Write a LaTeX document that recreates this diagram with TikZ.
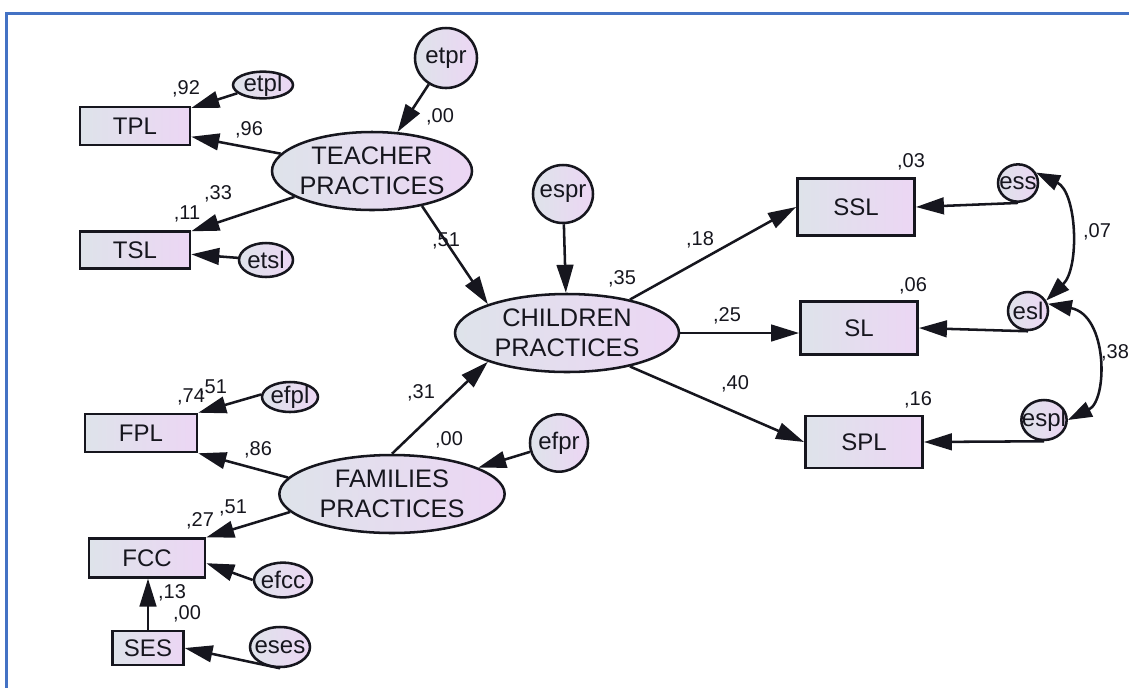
\documentclass[tikz,border=0pt]{standalone}
\usepackage{fontspec}
\setmainfont{Liberation Sans}
\usetikzlibrary{shapes.geometric,arrows.meta}
\definecolor{shL}{HTML}{DEE3EA}
\definecolor{shR}{HTML}{ECD6F4}
\definecolor{ink}{HTML}{16161E}
\definecolor{frameblue}{HTML}{4472C4}
\begin{document}
\begin{tikzpicture}[x=0.75pt,y=-0.75pt,
  base/.style={draw=ink, line width=1.9pt, left color=shL, right color=shR, text=ink, inner sep=0pt},
  obs/.style={base, rectangle, font=\fontsize{18}{20}\selectfont},
  lat/.style={base, ellipse, inner sep=-3pt, align=center, font=\fontsize{19}{22.5}\selectfont},
  err/.style={base, ellipse, label={[text=ink,inner sep=0pt,font=\fontsize{18}{20}\selectfont]center:#1}},
  coef/.style={text=ink, inner sep=0pt, font=\fontsize{15}{17}\selectfont},
  pth/.style={draw=ink, line width=1.9pt, -{Triangle[length=21pt,width=12.5pt]}},
  cov/.style={draw=ink, line width=1.9pt, {Triangle[length=18pt,width=12pt]}-{Triangle[length=18pt,width=12pt]}},
]
\useasboundingbox (0,0) rectangle (1129,687);
\draw[frameblue, line width=2pt] (6.5,690) -- (6.5,13.5) -- (1132,13.5);

% observed variables
\node[obs, minimum width=82.5pt, minimum height=28.5pt] (TPL) at (135,126) {TPL};
\node[obs, minimum width=82.5pt, minimum height=28pt] (TSL) at (135,250) {TSL};
\node[obs, minimum width=84pt, minimum height=28.5pt] (FPL) at (141,433) {FPL};
\node[obs, minimum width=87pt, minimum height=29pt] (FCC) at (147,558) {FCC};
\node[obs, minimum width=53pt, minimum height=25.5pt] (SES) at (148,648) {SES};
\node[obs, minimum width=88pt, minimum height=43pt] (SSL) at (856,207) {SSL};
\node[obs, minimum width=88pt, minimum height=40pt] (SL) at (859,328) {SL};
\node[obs, minimum width=88pt, minimum height=39pt] (SPL) at (864,442) {SPL};

% latent variables
\node[lat, minimum width=150pt, minimum height=58.5pt] (TEACHER) at (372,171) {TEACHER\\PRACTICES};
\node[lat, minimum width=168pt, minimum height=58.5pt] (CHILDREN) at (567,333) {CHILDREN\\PRACTICES};
\node[lat, minimum width=169pt, minimum height=58.5pt] (FAMILIES) at (392,494) {FAMILIES\\PRACTICES};

% error terms
\node[err=etpl, minimum width=45pt, minimum height=20pt] (etpl) at (263,85) {};
\node[err=etpr, minimum width=46.5pt, minimum height=45pt] (etpr) at (446,58) {};
\node[err=etsl, minimum width=40.5pt, minimum height=25.5pt] (etsl) at (266,260) {};
\node[err=espr, minimum width=45pt, minimum height=43.5pt] (espr) at (563,194) {};
\node[err=efpl, minimum width=42pt, minimum height=22.5pt] (efpl) at (290,397) {};
\node[err=efpr, minimum width=43.5pt, minimum height=43pt] (efpr) at (559,443) {};
\node[err=efcc, minimum width=43.5pt, minimum height=26pt] (efcc) at (283,580) {};
\node[err=eses, minimum width=45pt, minimum height=30pt] (eses) at (280,647) {};
\node[err=ess, minimum width=30pt, minimum height=28pt] (ess) at (1018,183) {};
\node[err=esl, minimum width=30pt, minimum height=28.5pt] (esl) at (1028,311) {};
\node[err=espl, minimum width=34pt, minimum height=30pt] (espl) at (1044,420) {};

% paths
\draw[pth] (etpl) -- (TPL);
\draw[pth] (TEACHER) -- (TPL);
\draw[pth] (TEACHER) -- (TSL);
\draw[pth] (etsl) -- (TSL);
\draw[pth] (etpr) -- (TEACHER);
\draw[pth] (TEACHER.-35) -- (CHILDREN.160);
\draw[pth] (espr) -- (CHILDREN);
\draw[pth] (FAMILIES.90) -- (CHILDREN.-160);
\draw[pth] (efpr) -- (FAMILIES);
\draw[pth] (FAMILIES.171) -- (FPL.south east);
\draw[pth] (efpl.175) -- (FPL.north east);
\draw[pth] (FAMILIES.190) -- (FCC.north east);
\draw[pth] (efcc.west) -- (FCC.-5);
\draw[pth] (SES.north) -- (SES.north |- FCC.south);
\draw[pth] (eses.south) -- (SES.east);
\draw[pth] (CHILDREN.28) -- (SSL.west);
\draw[pth] (CHILDREN.east) -- (CHILDREN.east -| SL.west);
\draw[pth] (CHILDREN.-28) -- (SPL.west);
\draw[pth] (ess.south) -- (SSL.east);
\draw[pth] (esl.south) -- (SL.east);
\draw[pth] (espl.south) -- (SPL.east);
\draw[cov] (ess.30) .. controls (1077,192) and (1080,268) .. (esl.30);
\draw[cov] (esl.20) .. controls (1108,315) and (1108,400) .. (espl.east);

% coefficients
\node[coef] (c92) at (186,89) {,92};
\node[coef] (c96) at (249,130) {,96};
\node[coef] (c00a) at (440,117) {,00};
\node[coef] (c33) at (218,194) {,33};
\node[coef] (c11) at (187,214) {,11};
\node[coef] (c51a) at (446,241) {,51};
\node[coef] (c35) at (622,279) {,35};
\node[coef] (c18) at (700,240) {,18};
\node[coef] (c25) at (727,316) {,25};
\node[coef] (c40) at (735,384) {,40};
\node[coef] (c03) at (911,162) {,03};
\node[coef] (c06) at (913,286) {,06};
\node[coef] (c16) at (918,400) {,16};
\node[coef] (c07) at (1097,232) {,07};
\node[coef] (c38) at (1115,353) {,38};
\node[coef] (c74) at (191,397) {,74};
\node[coef] (c51b) at (213,388) {,51};
\node[coef] (c86) at (258,450) {,86};
\node[coef] (c31) at (421,393) {,31};
\node[coef] (c00b) at (449,440) {,00};
\node[coef] (c27) at (200,521) {,27};
\node[coef] (c51c) at (233,508) {,51};
\node[coef] (c13) at (172,593) {,13};
\node[coef] (c00c) at (187,614) {,00};
\end{tikzpicture}
\end{document}
